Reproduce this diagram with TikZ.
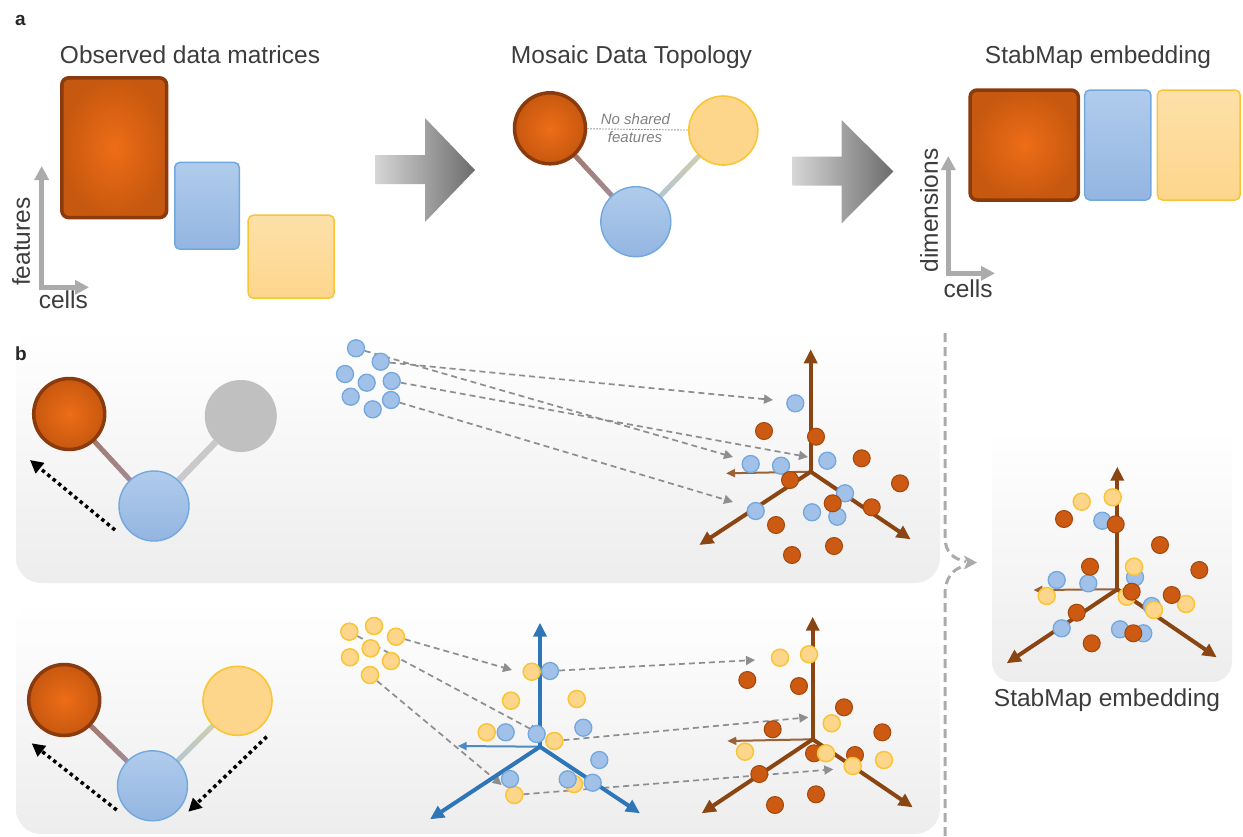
\documentclass[tikz,border=0pt]{standalone}
\usepackage{fontspec}
\setmainfont{Liberation Sans}
\usetikzlibrary{arrows.meta,calc}

\definecolor{orI}{HTML}{EE6D17}
\definecolor{orO}{HTML}{C7580F}
\definecolor{orB}{HTML}{8A3A0C}
\definecolor{blF}{HTML}{A2C1E8}
\definecolor{blT}{HTML}{B0CCEC}
\definecolor{blBt}{HTML}{93B5E1}
\definecolor{blB}{HTML}{72A8DE}
\definecolor{ylF}{HTML}{FDD68C}
\definecolor{ylB}{HTML}{F8C537}
\definecolor{dotO}{HTML}{CC5A12}
\definecolor{dotOB}{HTML}{A3470B}
\definecolor{brn}{HTML}{8B4513}
\definecolor{axb}{HTML}{2F76B8}
\definecolor{txt}{HTML}{3C3C3C}
\definecolor{dsh}{HTML}{8E8E8E}
\definecolor{axg}{HTML}{ABABAB}
\definecolor{gryC}{HTML}{C0C0C0}
\definecolor{pbot}{HTML}{EDEDED}
\definecolor{arL}{HTML}{D6D6D6}
\definecolor{arR}{HTML}{6C6C6C}
\definecolor{eOr}{HTML}{A5705C}
\definecolor{eMid}{HTML}{9E93A6}
\definecolor{eBl}{HTML}{A6C0E2}
\definecolor{eYl}{HTML}{DCD39E}

\pgfdeclarelayer{panel}
\pgfdeclarelayer{edge}
\pgfsetlayers{panel,edge,main}

% an edge whose colour runs from #3 to #4 between two named nodes
\newcommand\gradedge[5]{%
  \foreach \k in {0,...,11}{%
    \pgfmathsetmacro\pa{\k/12}%
    \pgfmathsetmacro\pb{(\k+1)/12}%
    \pgfmathsetmacro\mixp{100-100*(\k+0.5)/12}%
    \draw[line width=#5, line cap=round, draw=#3!\mixp!#4] ($(#1)!\pa!(#2)$) -- ($(#1)!\pb!(#2)$);
  }}

\tikzset{
  title/.style={text=txt, font=\fontsize{24.5}{28}\selectfont, inner sep=0pt},
  axl/.style={text=txt, font=\fontsize{24.5}{28}\selectfont, inner sep=0pt},
  lbl/.style={text=black!85, font=\fontsize{19}{21}\selectfont\bfseries, inner sep=0pt},
  nshl/.style={text=black!50, font=\fontsize{15}{17}\selectfont\itshape, inner sep=0pt},
  omat/.style={rectangle, rounded corners=7pt, draw=orB, line width=3.5pt, inner color=orI, outer color=orO, inner sep=0pt},
  bmat/.style={rectangle, rounded corners=5pt, draw=blB, line width=1.5pt, top color=blT, bottom color=blBt, inner sep=0pt},
  ymat/.style={rectangle, rounded corners=5pt, draw=ylB, line width=1.5pt, top color=ylF!75!white, bottom color=ylF, inner sep=0pt},
  ornode/.style={circle, minimum size=71pt, inner sep=0pt, draw=orB, line width=3.5pt, inner color=orI, outer color=orO},
  blnode/.style={circle, minimum size=70pt, inner sep=0pt, draw=blB, line width=1.4pt, top color=blT, bottom color=blBt},
  ylnode/.style={circle, minimum size=69pt, inner sep=0pt, draw=ylB, line width=1.6pt, fill=ylF},
  grnode/.style={circle, minimum size=72pt, inner sep=0pt, fill=gryC},
  pto/.style={circle, minimum size=17pt, inner sep=0pt, fill=dotO, draw=dotOB, line width=1pt},
  ptb/.style={circle, minimum size=17pt, inner sep=0pt, fill=blF, draw=blB, line width=1.3pt},
  pty/.style={circle, minimum size=17pt, inner sep=0pt, fill=ylF, draw=ylB, line width=1.5pt},
  map/.style={draw=dsh, line width=1.7pt, dash pattern=on 6pt off 4pt, -{Triangle[length=9pt,width=9pt]}},
  hop/.style={draw=black, line width=3.5pt, dash pattern=on 3.5pt off 3.5pt, -{Triangle[length=13pt,width=13pt]}},
  gax/.style={draw=axg, line width=4.5pt, {Triangle[length=14pt,width=14pt]}-{Triangle[length=14pt,width=14pt]}},
  axmain/.style={line width=4pt, -{Triangle[length=14pt,width=13pt]}},
  axthin/.style={line width=2pt, -{Triangle[length=9pt,width=8pt]}},
  brk/.style={draw=axg, line width=3pt, dash pattern=on 9pt off 5pt},
  nsh/.style={draw=black!45, line width=0.9pt, dash pattern=on 1.5pt off 1.5pt},
}

\begin{document}
\begin{tikzpicture}[x=1pt,y=-1pt]
\useasboundingbox (0,0) rectangle (1243,836);

% ---------- panel backgrounds ----------
\begin{pgfonlayer}{panel}
  \shade[top color=white, bottom color=pbot, rounded corners=25pt] (16,330) rectangle (940,583);
  \shade[top color=white, bottom color=pbot, rounded corners=25pt] (16,600) rectangle (940,834);
  \shade[top color=white, bottom color=pbot, rounded corners=20pt] (992,428) rectangle (1232,682);
\end{pgfonlayer}

% ---------- part a ----------
\node[lbl, anchor=base west] (la) at (15,25) {a};
\node[title, anchor=base] (ta1) at (190,63) {Observed data matrices};
\node[title, anchor=base] (ta2) at (631.5,63) {Mosaic Data Topology};
\node[title, anchor=base] (ta3) at (1098,63) {StabMap embedding};

% observed matrices
\node[omat, minimum width=104.8pt, minimum height=139.8pt] (m1) at (114.2,147.7) {};
\node[bmat, minimum width=64.5pt, minimum height=86.8pt] (m2) at (207,205.8) {};
\node[ymat, minimum width=86pt, minimum height=83pt] (m3) at (291.2,256.7) {};

\coordinate (fa0) at (41.7,287.3);
\coordinate (fa1) at (41.7,166);
\coordinate (fa2) at (89,287.3);
\draw[gax] (fa1) -- (fa0) -- (fa2);
\node[axl, rotate=90] (lf) at (21.2,241.7) {features};
\node[axl, anchor=base] (lc) at (63.3,308) {cells};

% block arrows
\shade[left color=arL, right color=arR] (375,155) -- (425,155) -- (425,118) -- (475,170)
  -- (425,222) -- (425,184) -- (375,184) -- cycle;
\shade[left color=arL, right color=arR] (792.7,156.7) -- (841.7,156.7) -- (841.7,120) -- (893.3,171.5)
  -- (841.7,223.3) -- (841.7,185.7) -- (792.7,185.7) -- cycle;

% mosaic topology
\node[ornode] (g1o) at (550,128.3) {};
\node[ylnode] (g1y) at (723.3,130.5) {};
\node[blnode] (g1b) at (635.8,221.7) {};
\begin{pgfonlayer}{edge}
  \gradedge{g1o}{g1b}{eOr}{eMid}{5pt}
  \gradedge{g1b}{g1y}{eBl}{eYl}{5pt}
  \draw[nsh] (g1o) -- (g1y);
\end{pgfonlayer}
\node[nshl] (ns1) at (635.5,119) {No shared};
\node[nshl] (ns2) at (635,137.5) {features};

% embedding
\node[omat, minimum width=108.2pt, minimum height=110pt] (e1) at (1024.2,145) {};
\node[bmat, minimum width=66.2pt, minimum height=110pt] (e2) at (1117.8,145) {};
\node[ymat, minimum width=82.7pt, minimum height=110pt] (e3) at (1198.8,145) {};
\coordinate (da0) at (948.3,273.3);
\coordinate (da1) at (948.3,156);
\coordinate (da2) at (995,273.3);
\draw[gax] (da1) -- (da0) -- (da2);
\node[axl, rotate=90] (ld) at (929.2,210.5) {dimensions};
\node[axl, anchor=base] (lc2) at (968,297) {cells};

% ---------- part b ----------
\node[lbl, anchor=base west] (lb) at (15,360) {b};

% first step: graph
\node[ornode] (h1o) at (69.2,414) {};
\node[grnode] (h1g) at (240.8,416) {};
\node[blnode] (h1b) at (154,506) {};
\begin{pgfonlayer}{edge}
  \gradedge{h1o}{h1b}{eOr}{eMid}{5pt}
  \draw[draw=gryC!85!white, line width=6.5pt] (h1g) -- (h1b);
\end{pgfonlayer}
\coordinate (hp1s) at (115,530);
\coordinate (hp1e) at (30,460);
\draw[hop] (hp1s) -- (hp1e);

% first step: reference cells
\foreach \x/\y [count=\i] in {356/348.3, 380.7/361.7, 345/374, 366.7/382.7, 391.7/381, 350.7/396.7, 372.7/409.3, 391/400}
  \node[ptb] (c\i) at (\x,\y) {};

% first step: embedding axes
\coordinate (o1) at (810.7,471.7);
\coordinate (o1u) at (810.7,349.3);
\coordinate (o1l) at (726,473.3);
\coordinate (o1a) at (699.3,545);
\coordinate (o1b) at (910.7,539.3);
\draw[axthin, draw=brn!85] (o1) -- (o1l);
\draw[axmain, draw=brn] (o1) -- (o1u);
\draw[axmain, draw=brn] (o1) -- (o1a);
\draw[axmain, draw=brn] (o1) -- (o1b);
\foreach \x/\y [count=\i] in {795.3/403.3, 750.7/464, 781/465.7, 827.3/460.7, 845/493.3, 755.7/511, 812/512.3, 837.3/516.7}
  \node[ptb] (q1b\i) at (\x,\y) {};
\foreach \x/\y [count=\i] in {764/431, 816/436.7, 861.7/458.3, 900/483.3, 790/480, 832.7/503.3, 871.7/507.3, 776/525, 834/546, 792/555}
  \node[pto] (q1o\i) at (\x,\y) {};

\coordinate (t11) at (733,457);
\coordinate (t12) at (773,400);
\coordinate (t13) at (808,457);
\coordinate (t14) at (733,502);
\begin{pgfonlayer}{edge}
  \draw[map] (c1) -- (t11);
  \draw[map] (c2) -- (t12);
  \draw[map] (c5) -- (t13);
  \draw[map] (c8) -- (t14);
\end{pgfonlayer}

% second step: graph
\node[ornode] (h2o) at (64.2,700) {};
\node[ylnode] (h2y) at (237.5,700.8) {};
\node[blnode] (h2b) at (152.5,785.8) {};
\begin{pgfonlayer}{edge}
  \gradedge{h2o}{h2b}{eOr}{eMid}{5pt}
  \gradedge{h2b}{h2y}{eBl}{eYl}{5pt}
\end{pgfonlayer}
\coordinate (hp2s) at (116.7,810);
\coordinate (hp2e) at (31.7,743.3);
\coordinate (hp3s) at (266.7,736.7);
\coordinate (hp3e) at (188.3,811.7);
\draw[hop] (hp2s) -- (hp2e);
\draw[hop] (hp3s) -- (hp3e);

% second step: query cells
\foreach \x/\y [count=\i] in {349.3/631.7, 374/626, 396/636.7, 370.7/648.3, 350/657.3, 391/661, 370/675}
  \node[pty] (d\i) at (\x,\y) {};

% second step: axes of the blue reference
\coordinate (o2) at (540,746.7);
\coordinate (o2u) at (540,622.7);
\coordinate (o2l) at (457.7,746);
\coordinate (o2a) at (430,819.3);
\coordinate (o2b) at (640,813.3);
\draw[axthin, draw=axb!85] (o2) -- (o2l);
\draw[axmain, draw=axb] (o2) -- (o2u);
\draw[axmain, draw=axb] (o2) -- (o2a);
\draw[axmain, draw=axb] (o2) -- (o2b);
\foreach \x/\y [count=\i] in {531.7/671.7, 511/700.7, 576.7/699, 486.7/732.3, 514.3/795, 574/784}
  \node[pty] (q2y\i) at (\x,\y) {};
\foreach \x/\y [count=\i] in {550/671, 505.7/732.3, 536.7/734, 583.3/727.7, 599.3/760, 510/779, 567.7/779.3, 592.7/782.7}
  \node[ptb] (q2b\i) at (\x,\y) {};
\node[pty] (q2y7) at (554.3,741) {};

% second step: axes of the orange reference
\coordinate (o3) at (812.7,739.3);
\coordinate (o3u) at (812.7,616.7);
\coordinate (o3l) at (727.3,741);
\coordinate (o3a) at (701.7,813.3);
\coordinate (o3b) at (912.7,807.3);
\draw[axthin, draw=brn!85] (o3) -- (o3l);
\draw[axmain, draw=brn] (o3) -- (o3u);
\draw[axmain, draw=brn] (o3) -- (o3a);
\draw[axmain, draw=brn] (o3) -- (o3b);
\foreach \x/\y [count=\i] in {747.3/680, 799/686, 844/707.3, 772.7/729.3, 882.3/732.3, 814/753.3, 855/755, 759.3/774, 816/794.3, 775/805}
  \node[pto] (q3o\i) at (\x,\y) {};
\foreach \x/\y [count=\i] in {780/657.7, 809/654.3, 831.7/723.3, 745/751.7, 826/753.3, 852.7/766, 884/760}
  \node[pty] (q3y\i) at (\x,\y) {};

\coordinate (t21) at (512,670);
\coordinate (t22) at (538,733);
\coordinate (t23) at (501.7,785);
\coordinate (t31) at (755,660);
\coordinate (t32) at (808.3,717.3);
\coordinate (t33) at (833.3,769.3);
\begin{pgfonlayer}{edge}
  \draw[map] (d3) -- (t21);
  \draw[map] (d1) -- (t22);
  \draw[map] (d7) -- (t23);
  \draw[map] (q2b1) -- (t31);
  \draw[map] (q2y7) -- (t32);
  \draw[map] (q2y5) -- (t33);
\end{pgfonlayer}

% bracket joining both steps
\coordinate (bk1) at (945,333);
\coordinate (bk2) at (977,562.5);
\coordinate (bk3) at (945,836);
\coordinate (bk4) at (964,566);
\draw[brk] (bk1) -- (945,537) .. controls (945,552) and (953,559) .. (966,561.5);
\draw[brk] (bk3) -- (945,594) .. controls (945,578) and (953,569) .. (bk4);
\fill[axg] (bk2) -- (964,555.5) -- (967,562) -- (964,569.5) -- cycle;

% final embedding
\coordinate (o4) at (1117.3,589.3);
\coordinate (o4u) at (1117.3,466.7);
\coordinate (o4l) at (1033.3,590);
\coordinate (o4a) at (1006.7,663.3);
\coordinate (o4b) at (1216.7,657.3);
\draw[axthin, draw=brn!85] (o4) -- (o4l);
\draw[axmain, draw=brn] (o4) -- (o4u);
\draw[axmain, draw=brn] (o4) -- (o4a);
\draw[axmain, draw=brn] (o4) -- (o4b);
\foreach \x/\y [count=\i] in {1102.3/520.7, 1135/577.3, 1056.7/580, 1088.3/583.3, 1151.7/606, 1061.7/628.3, 1120/629.3, 1143.3/633.3}
  \node[ptb] (q4b\i) at (\x,\y) {};
\foreach \x/\y [count=\i] in {1081.7/501.7, 1112.7/497.3, 1134/566.7, 1046.7/596, 1126.7/596.7, 1186/604, 1154/610}
  \node[pty] (q4y\i) at (\x,\y) {};
\foreach \x/\y [count=\i] in {1064/519, 1115.7/524.3, 1160/545, 1199.3/570, 1090/566.7, 1131.7/591.7, 1171.7/595, 1076.7/612.7, 1133.3/633.3, 1091.7/643.3}
  \node[pto] (q4o\i) at (\x,\y) {};
\node[title, anchor=base] (tb) at (1107,706) {StabMap embedding};

\end{tikzpicture}
\end{document}
